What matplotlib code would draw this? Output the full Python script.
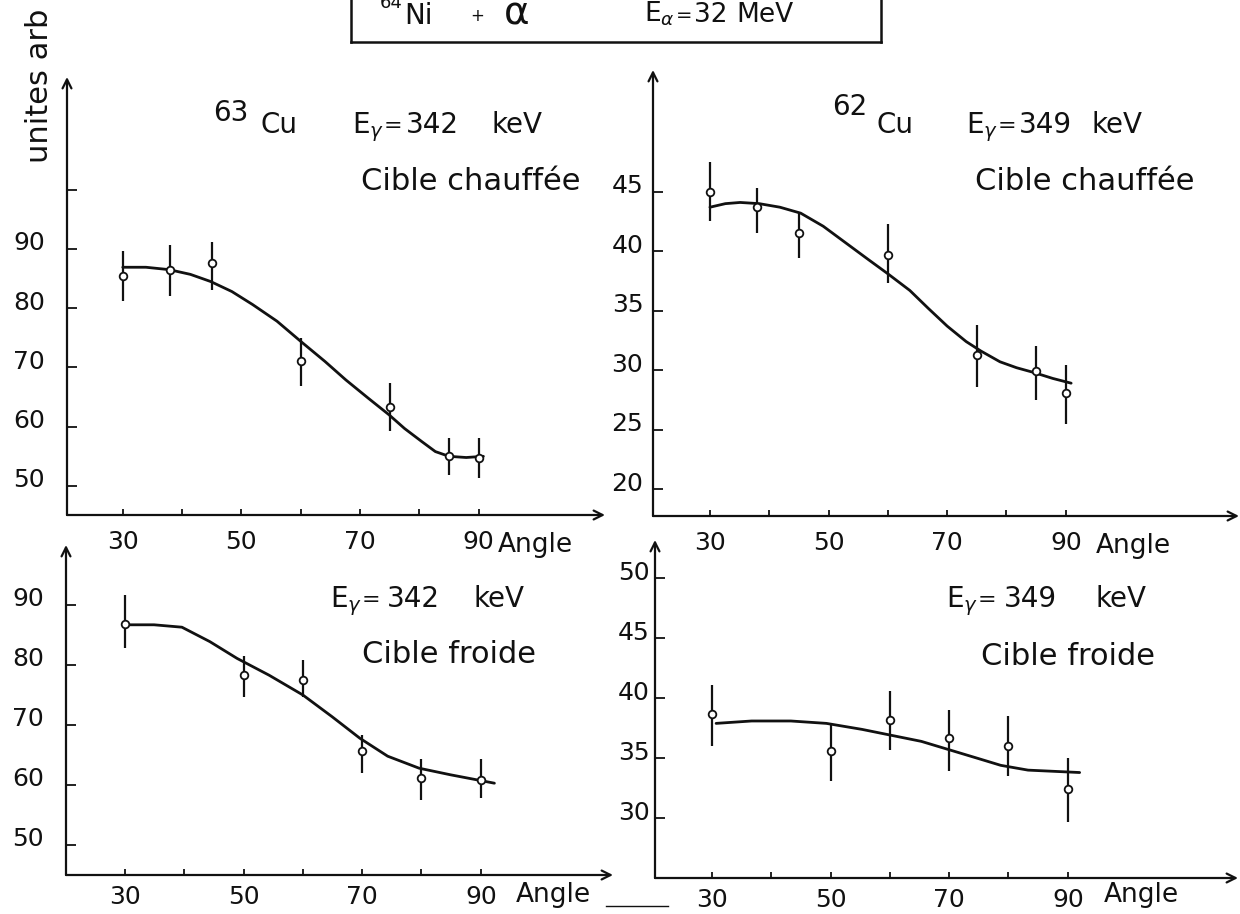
import matplotlib
matplotlib.use("Agg")
import matplotlib.pyplot as plt
from matplotlib.transforms import ScaledTranslation
from matplotlib.lines import Line2D

# ---------------- data ----------------
# top-left : 63Cu, E_gamma = 342 keV, cible chauffee
tl_angles = [30, 38, 45, 60, 75, 85, 90]
tl_values = [85.4, 86.5, 87.6, 71.0, 63.4, 55.0, 54.7]
tl_low = [81.2, 82.0, 83.1, 66.8, 59.2, 51.9, 51.3]
tl_high = [89.6, 90.7, 91.1, 75.0, 67.4, 58.1, 58.1]
tl_curve_x = [30, 33.9, 37.8, 41.4, 44.8, 48.4, 51.9, 56.0, 60.0, 64.1, 67.6,
              71.4, 74.9, 77.5, 80.4, 82.7, 85.0, 87.9, 90.8]
tl_curve_y = [86.9, 86.9, 86.5, 85.7, 84.5, 82.8, 80.6, 77.8, 74.4, 71.0, 67.9,
              64.8, 62.0, 59.7, 57.5, 55.8, 55.0, 54.8, 55.0]

# top-right : 62Cu, E_gamma = 349 keV, cible chauffee
tr_angles = [30, 38, 45, 60, 75, 85, 90]
tr_values = [45.0, 43.7, 41.5, 39.7, 31.3, 29.9, 28.1]
tr_low = [42.5, 41.5, 39.4, 37.3, 28.6, 27.5, 25.5]
tr_high = [47.5, 45.3, 43.2, 42.3, 33.8, 32.0, 30.4]
tr_curve_x = [30.0, 32.6, 35.1, 38.3, 41.8, 45.3, 49.1, 52.9, 56.7, 60.0, 63.7,
              66.8, 70.0, 73.2, 75.7, 78.9, 81.7, 84.6, 87.8, 90.9]
tr_curve_y = [43.7, 44.0, 44.1, 44.0, 43.7, 43.2, 42.1, 40.7, 39.3, 38.1, 36.7,
              35.2, 33.7, 32.4, 31.6, 30.7, 30.2, 29.8, 29.3, 28.9]

# bottom-left : E_gamma = 342 keV, cible froide
bl_angles = [30, 50, 60, 70, 80, 90]
bl_values = [86.9, 78.3, 77.5, 65.6, 61.1, 60.8]
bl_low = [82.8, 74.7, 74.7, 62.0, 57.5, 57.8]
bl_high = [91.7, 81.5, 80.8, 68.3, 64.4, 64.4]
bl_curve_x = [30.25, 34.9, 39.6, 44.3, 48.9, 54.3, 60.0, 64.9, 69.6, 74.3,
              79.6, 84.9, 90.2, 92.3]
bl_curve_y = [86.7, 86.7, 86.3, 83.9, 81.1, 78.3, 75.0, 71.4, 67.8, 64.8,
              62.8, 61.7, 60.7, 60.3]

# bottom-right : E_gamma = 349 keV, cible froide
br_angles = [30, 50, 60, 70, 80, 90]
br_values = [38.7, 35.6, 38.2, 36.7, 36.0, 32.4]
br_low = [36.0, 33.1, 35.7, 33.9, 33.5, 29.7]
br_high = [41.1, 37.9, 40.6, 39.0, 38.5, 35.0]
br_curve_x = [30.7, 36.7, 43.3, 49.3, 55.3, 60.3, 65.3, 70.0, 74.7, 78.7,
              83.3, 92.0]
br_curve_y = [37.9, 38.1, 38.1, 37.9, 37.4, 36.9, 36.4, 35.7, 35.0, 34.4,
              34.0, 33.8]

x_ticks = [30, 40, 50, 60, 70, 80, 90]
x_ticklabels = ["30", "", "50", "", "70", "", "90"]
tl_yticks = [50, 60, 70, 80, 90, 100]
tl_yticklabels = ["50", "60", "70", "80", "90", ""]
tr_yticks = [20, 25, 30, 35, 40, 45]
bl_yticks = [50, 60, 70, 80, 90]
br_yticks = [30, 35, 40, 45, 50]

# ---------------- figure ----------------
W, H = 1240, 914
plt.rcParams['font.family'] = ['DejaVu Sans']
plt.rcParams['mathtext.fontset'] = 'dejavusans'
fig = plt.figure(figsize=(W / 100, H / 100), dpi=100)
fig.patch.set_facecolor('white')
INK = '#111111'


def ftext(x, y, s, size=20, **kw):
    kw.setdefault('va', 'baseline')
    kw.setdefault('ha', 'left')
    fig.text(x / W, 1 - y / H, s, fontsize=size, color=INK, **kw)


def fline(xs, ys, lw=1.6):
    fig.add_artist(Line2D([x / W for x in xs], [1 - y / H for y in ys],
                          color=INK, lw=lw, transform=fig.transFigure))


def make_ax(left, right, top, bottom, xlim, ylim, yticks, yticklabels,
            xpad, ypad, ylab_shift=8):
    ax = fig.add_axes([left / W, 1 - bottom / H, (right - left) / W,
                       (bottom - top) / H])
    ax.set_xlim(*xlim)
    ax.set_ylim(*ylim)
    ax.patch.set_alpha(0)
    for s in ax.spines.values():
        s.set_visible(False)
    arrow = dict(arrowstyle='->', lw=1.6, color=INK, shrinkA=0, shrinkB=0,
                 mutation_scale=16)
    ax.annotate('', xy=(1, 0), xytext=(0, 0), xycoords='axes fraction',
                textcoords='axes fraction', arrowprops=arrow)
    ax.annotate('', xy=(0, 1), xytext=(0, 0), xycoords='axes fraction',
                textcoords='axes fraction', arrowprops=arrow)
    ax.set_xticks(x_ticks)
    ax.set_xticklabels(x_ticklabels)
    ax.set_yticks(yticks)
    ax.set_yticklabels(yticklabels)
    ax.tick_params(axis='x', direction='in', length=4, width=1.3,
                   labelsize=18, pad=xpad, colors=INK)
    ax.tick_params(axis='y', direction='in', length=7, width=1.3,
                   labelsize=18, pad=ypad, colors=INK)
    off = ScaledTranslation(0, ylab_shift / 100, fig.dpi_scale_trans)
    for lbl in ax.get_yticklabels():
        lbl.set_transform(lbl.get_transform() + off)
    return ax


def draw_data(ax, ang, val, low, high, cx, cy):
    ax.plot(cx, cy, color=INK, lw=2.0, zorder=2, solid_capstyle='round')
    yerr = [[v - lo for v, lo in zip(val, low)],
            [hi - v for v, hi in zip(val, high)]]
    ax.errorbar(ang, val, yerr=yerr, fmt='o', ms=5.5, mfc='white', mec=INK,
                mew=1.3, ecolor=INK, elinewidth=1.6, capsize=0, zorder=3,
                clip_on=False)


# top-left
ax1 = make_ax(67, 605, 77, 515, (20.6, 111.3), (45.1, 119.0),
              tl_yticks, tl_yticklabels, xpad=11, ypad=16)
draw_data(ax1, tl_angles, tl_values, tl_low, tl_high, tl_curve_x, tl_curve_y)

# top-right
ax2 = make_ax(653, 1239, 70, 516, (20.4, 119.2), (17.73, 55.24),
              tr_yticks, [str(v) for v in tr_yticks], xpad=11, ypad=7)
draw_data(ax2, tr_angles, tr_values, tr_low, tr_high, tr_curve_x, tr_curve_y)

# bottom-left
ax3 = make_ax(66, 613, 545, 875, (20.05, 112.3), (45.0, 100.0),
              bl_yticks, [str(v) for v in bl_yticks], xpad=7, ypad=16)
draw_data(ax3, bl_angles, bl_values, bl_low, bl_high, bl_curve_x, bl_curve_y)

# bottom-right
ax4 = make_ax(655, 1238, 540, 878, (20.4, 118.7), (25.0, 53.2),
              br_yticks, [str(v) for v in br_yticks], xpad=7, ypad=4)
draw_data(ax4, br_angles, br_values, br_low, br_high, br_curve_x, br_curve_y)

# "Angle" axis labels
ftext(498, 552, "Angle", size=19)
ftext(1096, 553, "Angle", size=19)
ftext(516, 902, "Angle", size=19)
ftext(1104, 902, "Angle", size=19)
fline([606, 668], [906, 906], lw=1.0)

# y-axis unit label
ftext(40, 86, "unites arb", size=22, rotation=90, ha='center', va='center')

# header box
fline([351, 351], [-5, 42], lw=1.8)
fline([351, 881], [42, 42], lw=1.8)
fline([881, 881], [-5, 42], lw=1.8)
ftext(380, 8, "64", size=13)
ftext(404, 24, "Ni", size=20)
ftext(470, 21, "+", size=12)
ftext(503, 23, r"$\mathrm{\alpha}$", size=28)
ftext(644, 22, r"E$_\alpha$", size=19)
ftext(676, 21, "=", size=14)
ftext(694, 22, "32", size=19)
ftext(736, 22, "MeV", size=19)

# panel annotations
# top-left
ftext(213, 121, "63", size=20)
ftext(260, 133, "Cu", size=20)
ftext(352, 133, r"E$_\gamma$", size=20)
ftext(384, 132, "=", size=16)
ftext(406, 133, "342", size=20)
ftext(492, 133, "keV", size=20)
ftext(361, 190, "Cible chauffée", size=22)
# top-right
ftext(832, 115, "62", size=20)
ftext(876, 133, "Cu", size=20)
ftext(966, 133, r"E$_\gamma$", size=20)
ftext(998, 132, "=", size=16)
ftext(1019, 133, "349", size=20)
ftext(1092, 133, "keV", size=20)
ftext(975, 190, "Cible chauffée", size=22)
# bottom-left
ftext(330, 607, r"E$_\gamma$", size=20)
ftext(362, 606, "=", size=16)
ftext(387, 607, "342", size=20)
ftext(474, 607, "keV", size=20)
ftext(362, 663, "Cible froide", size=22)
# bottom-right
ftext(946, 607, r"E$_\gamma$", size=20)
ftext(978, 606, "=", size=16)
ftext(1004, 607, "349", size=20)
ftext(1095, 607, "keV", size=20)
ftext(981, 665, "Cible froide", size=22)

fig.savefig("out.png", dpi=100, facecolor='white')
